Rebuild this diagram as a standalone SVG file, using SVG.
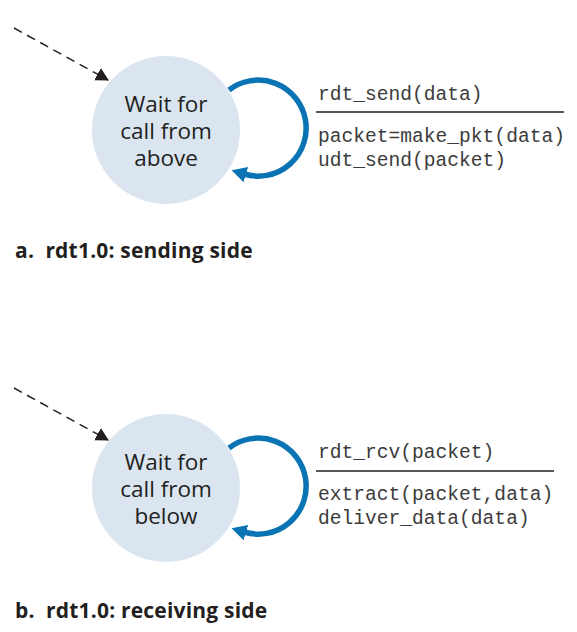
<svg xmlns="http://www.w3.org/2000/svg" width="577" height="632" viewBox="0 0 577 632">
  <style>
    .state { fill: #dae5f0; }
    .state-text { font-family: "Open Sans", "Liberation Sans", sans-serif; font-size: 22.5px; fill: #231f20; text-anchor: middle; }
    .loop { fill: none; stroke: #0a73b3; stroke-width: 5.5; }
    .init { fill: none; stroke: #231f20; stroke-width: 1.5; stroke-dasharray: 9 6; }
    .code { font-family: "Liberation Mono", "Courier New", monospace; font-size: 19.6px; fill: #3c3c3c; }
    .rule { stroke: #231f20; stroke-width: 1.5; }
    .caption { font-family: "Open Sans", "Liberation Sans", sans-serif; font-weight: bold; font-size: 21px; letter-spacing: 0.2px; fill: #231f20; }
  </style>
  <defs>
    <marker id="initHead" markerWidth="14" markerHeight="14" refX="12" refY="7" orient="auto" markerUnits="userSpaceOnUse">
      <path d="M0,0 L13,7 L0,14 Z" fill="#231f20"/>
    </marker>
    <marker id="loopHead" markerWidth="18" markerHeight="18" refX="2" refY="8" orient="auto" markerUnits="userSpaceOnUse">
      <path d="M0,0 L15,8 L0,16 Z" fill="#0a73b3"/>
    </marker>
  </defs>

  <!-- sender state machine -->
  <g id="sender-state">
    <circle class="state" cx="166" cy="130" r="74"/>
    <text class="state-text" x="166" y="112">Wait for</text>
    <text class="state-text" x="166" y="139">call from</text>
    <text class="state-text" x="166" y="166">above</text>
  </g>

  <!-- receiver state machine -->
  <g id="receiver-state">
    <circle class="state" cx="166" cy="488" r="74"/>
    <text class="state-text" x="166" y="470">Wait for</text>
    <text class="state-text" x="166" y="497">call from</text>
    <text class="state-text" x="166" y="524">below</text>
  </g>

  <g id="connectors">
    <line class="init" x1="14" y1="28" x2="108" y2="80" marker-end="url(#initHead)"/>
    <path class="loop" d="M229,90 A48,48 0 1 1 244,174" marker-end="url(#loopHead)"/>
    <line class="init" x1="14" y1="388" x2="108" y2="440" marker-end="url(#initHead)"/>
    <path class="loop" d="M229,448 A48,48 0 1 1 244,532" marker-end="url(#loopHead)"/>
  </g>

  <!-- sender transition label -->
  <g id="sender-label">
    <text class="code" x="318" y="100">rdt_send(data)</text>
    <line class="rule" x1="316" y1="112" x2="564" y2="112"/>
    <text class="code" x="318" y="142">packet=make_pkt(data)</text>
    <text class="code" x="318" y="166">udt_send(packet)</text>
  </g>

  <!-- receiver transition label -->
  <g id="receiver-label">
    <text class="code" x="318" y="458">rdt_rcv(packet)</text>
    <line class="rule" x1="316" y1="471" x2="554" y2="471"/>
    <text class="code" x="318" y="500">extract(packet,data)</text>
    <text class="code" x="318" y="524">deliver_data(data)</text>
  </g>

  <text class="caption" x="15" y="258" xml:space="preserve">a.  rdt1.0: sending side</text>
  <text class="caption" x="15" y="618" xml:space="preserve">b.  rdt1.0: receiving side</text>
</svg>
